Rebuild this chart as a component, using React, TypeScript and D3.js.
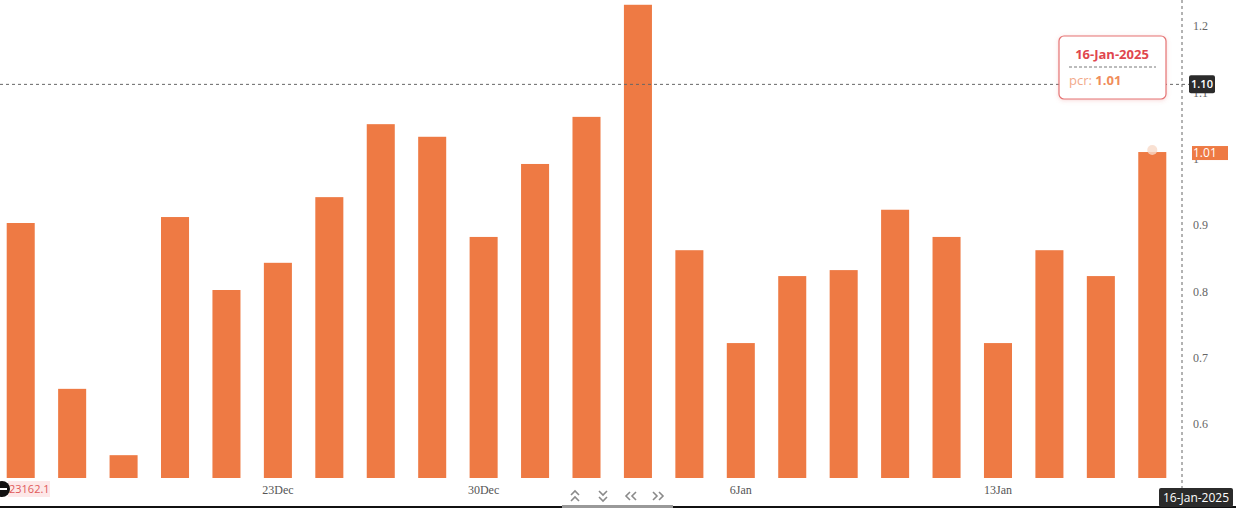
import React from "react";
import * as d3 from "d3";

const dates = [
  "2024-12-16","2024-12-17","2024-12-18","2024-12-19","2024-12-20",
  "2024-12-23","2024-12-24","2024-12-26","2024-12-27","2024-12-30",
  "2024-12-31","2025-01-01","2025-01-02","2025-01-03","2025-01-06",
  "2025-01-07","2025-01-08","2025-01-09","2025-01-10","2025-01-13",
  "2025-01-14","2025-01-15","2025-01-16",
];
const pcr = [
  0.903, 0.653, 0.553, 0.912, 0.802,
  0.843, 0.942, 1.052, 1.033, 0.882,
  0.992, 1.063, 1.232, 0.862, 0.722,
  0.823, 0.832, 0.923, 0.882, 0.722,
  0.862, 0.823, 1.01,
];
const xTickDates = ["2024-12-23", "2024-12-30", "2025-01-06", "2025-01-13"];
const xTickLabels = ["23Dec", "30Dec", "6Jan", "13Jan"];
const yTicks = [0.6, 0.7, 0.8, 0.9, 1.0, 1.1, 1.2];
const crosshairValue = 1.112;
const crosshairLabel = "1.10";
const hoverIndex = 22;
const hoverDateLabel = "16-Jan-2025";
const leftPriceLabel = "23162.1";

const W = 1236;
const H = 509;
const plotRight = 1182;
const plotBottom = 478;
const ORANGE = "#EE7A44";

export default function App() {
  const x = d3
    .scaleBand<string>()
    .domain(dates)
    .range([-5, 1178])
    .paddingInner(0.455)
    .paddingOuter(0.2275);
  const y = d3.scaleLinear().domain([0.6, 1.2]).range([424, 26]);
  const fmt = (v: number) => String(+v.toFixed(1));

  const hx = (x(dates[hoverIndex]) ?? 0) + x.bandwidth() / 2;
  const hv = pcr[hoverIndex];
  const cy = y(crosshairValue);

  const chev = (cx: number, cyy: number, dir: "up" | "down" | "left" | "right", key: string) => {
    const s = 4;
    const paths: string[] = [];
    for (const off of [-3, 3]) {
      if (dir === "up") paths.push(`M${cx - s},${cyy + off + 2} L${cx},${cyy + off - 2} L${cx + s},${cyy + off + 2}`);
      if (dir === "down") paths.push(`M${cx - s},${cyy + off - 2} L${cx},${cyy + off + 2} L${cx + s},${cyy + off - 2}`);
      if (dir === "left") paths.push(`M${cx + off + 2},${cyy - s} L${cx + off - 2},${cyy} L${cx + off + 2},${cyy + s}`);
      if (dir === "right") paths.push(`M${cx + off - 2},${cyy - s} L${cx + off + 2},${cyy} L${cx + off - 2},${cyy + s}`);
    }
    return (
      <path key={key} d={paths.join(" ")} fill="none" stroke="#8a8a8a" strokeWidth={1.6} />
    );
  };

  return (
    <div style={{ position: "absolute", left: 0, top: 0, width: W, height: H }}>
      <svg width={W} height={H} style={{ display: "block", background: "#fff" }}>
        <defs>
          <filter id="shadow" x="-20%" y="-20%" width="140%" height="140%">
            <feDropShadow dx="0" dy="1" stdDeviation="2" floodColor="#e06060" floodOpacity="0.25" />
          </filter>
        </defs>

        {/* bars */}
        {dates.map((d, i) => (
          <rect
            key={d}
            x={x(d)}
            y={y(pcr[i])}
            width={x.bandwidth()}
            height={plotBottom - y(pcr[i])}
            fill={ORANGE}
          />
        ))}

        {/* hover marker */}
        <circle cx={hx} cy={y(hv) - 2} r={5} fill="#f7d9c8" opacity={0.8} />

        {/* y tick labels */}
        {yTicks.map((t) => (
          <text
            key={t}
            x={1193}
            y={y(t)}
            dy="0.35em"
            fontFamily="'Liberation Serif', serif"
            fontSize={12}
            fill="#666"
          >
            {fmt(t)}
          </text>
        ))}

        {/* x tick labels */}
        {xTickDates.map((d, i) => (
          <text
            key={d}
            x={(x(d) ?? 0) + x.bandwidth() / 2}
            y={490}
            dy="0.35em"
            textAnchor="middle"
            fontFamily="'Liberation Serif', serif"
            fontSize={12}
            fill="#555"
          >
            {xTickLabels[i]}
          </text>
        ))}

        {/* vertical dashed line */}
        <line x1={plotRight} x2={plotRight} y1={0} y2={H} stroke="#666" strokeDasharray="3,3" strokeWidth={1} />

        {/* horizontal crosshair */}
        <line x1={0} x2={1189} y1={cy} y2={cy} stroke="#666" strokeDasharray="3,3" strokeWidth={1} />

        {/* crosshair value label */}
        <rect x={1189} y={cy - 9} width={26} height={18} rx={2} fill="#2b2b2b" />
        <text
          x={1202}
          y={cy}
          dy="0.35em"
          textAnchor="middle"
          fontFamily="'Open Sans', sans-serif"
          fontSize={11}
          fontWeight={600}
          fill="#fff"
        >
          {crosshairLabel}
        </text>

        {/* last value label */}
        <rect x={1192} y={y(hv) - 6} width={36} height={14} fill={ORANGE} />
        <text
          x={1193}
          y={y(hv) + 1}
          dy="0.35em"
          fontFamily="'Open Sans', sans-serif"
          fontSize={12}
          fill="#fff"
        >
          {hv.toFixed(2)}
        </text>

        {/* tooltip */}
        <g filter="url(#shadow)">
          <rect x={1059} y={36} width={107} height={63} rx={5} fill="#fff" stroke="#e57373" strokeWidth={1.2} />
        </g>
        <text
          x={1112}
          y={54}
          dy="0.35em"
          textAnchor="middle"
          fontFamily="'Open Sans', sans-serif"
          fontSize={13}
          fontWeight={700}
          fill="#e0464e"
        >
          {hoverDateLabel}
        </text>
        <line x1={1069} x2={1156} y1={67} y2={67} stroke="#555" strokeDasharray="3,2" strokeWidth={0.8} />
        <text x={1069} y={80} dy="0.35em" fontFamily="'Open Sans', sans-serif" fontSize={13} fill="#f2a98a">
          pcr:{" "}
          <tspan fontWeight={700} fill="#f08c5a">
            {hv.toFixed(2)}
          </tspan>
        </text>

        {/* bottom-left price label */}
        <rect x={8} y={481} width={42} height={16} fill="#fde8e8" />
        <text x={9} y={489} dy="0.35em" fontFamily="'Open Sans', sans-serif" fontSize={11} fill="#e05a5a">
          {leftPriceLabel}
        </text>
        <circle cx={2} cy={489} r={8} fill="#111" />
        <line x1={-4} x2={7} y1={489} y2={489} stroke="#fff" strokeWidth={2} />

        {/* navigation arrows */}
        {chev(575, 496, "up", "u")}
        {chev(603, 496, "down", "d")}
        {chev(631, 496, "left", "l")}
        {chev(658, 496, "right", "r")}

        {/* bottom line and scrollbar */}
        <rect x={0} y={506} width={W} height={2} fill="#111" />
        <rect x={562} y={505} width={111} height={3} fill="#999" />

        {/* hover date label at bottom */}
        <rect x={1159} y={488} width={74} height={19} rx={2} fill="#2b2b2b" />
        <text
          x={1196}
          y={497.5}
          dy="0.35em"
          textAnchor="middle"
          fontFamily="'Open Sans', sans-serif"
          fontSize={12}
          fill="#fff"
        >
          {hoverDateLabel}
        </text>
      </svg>
    </div>
  );
}
